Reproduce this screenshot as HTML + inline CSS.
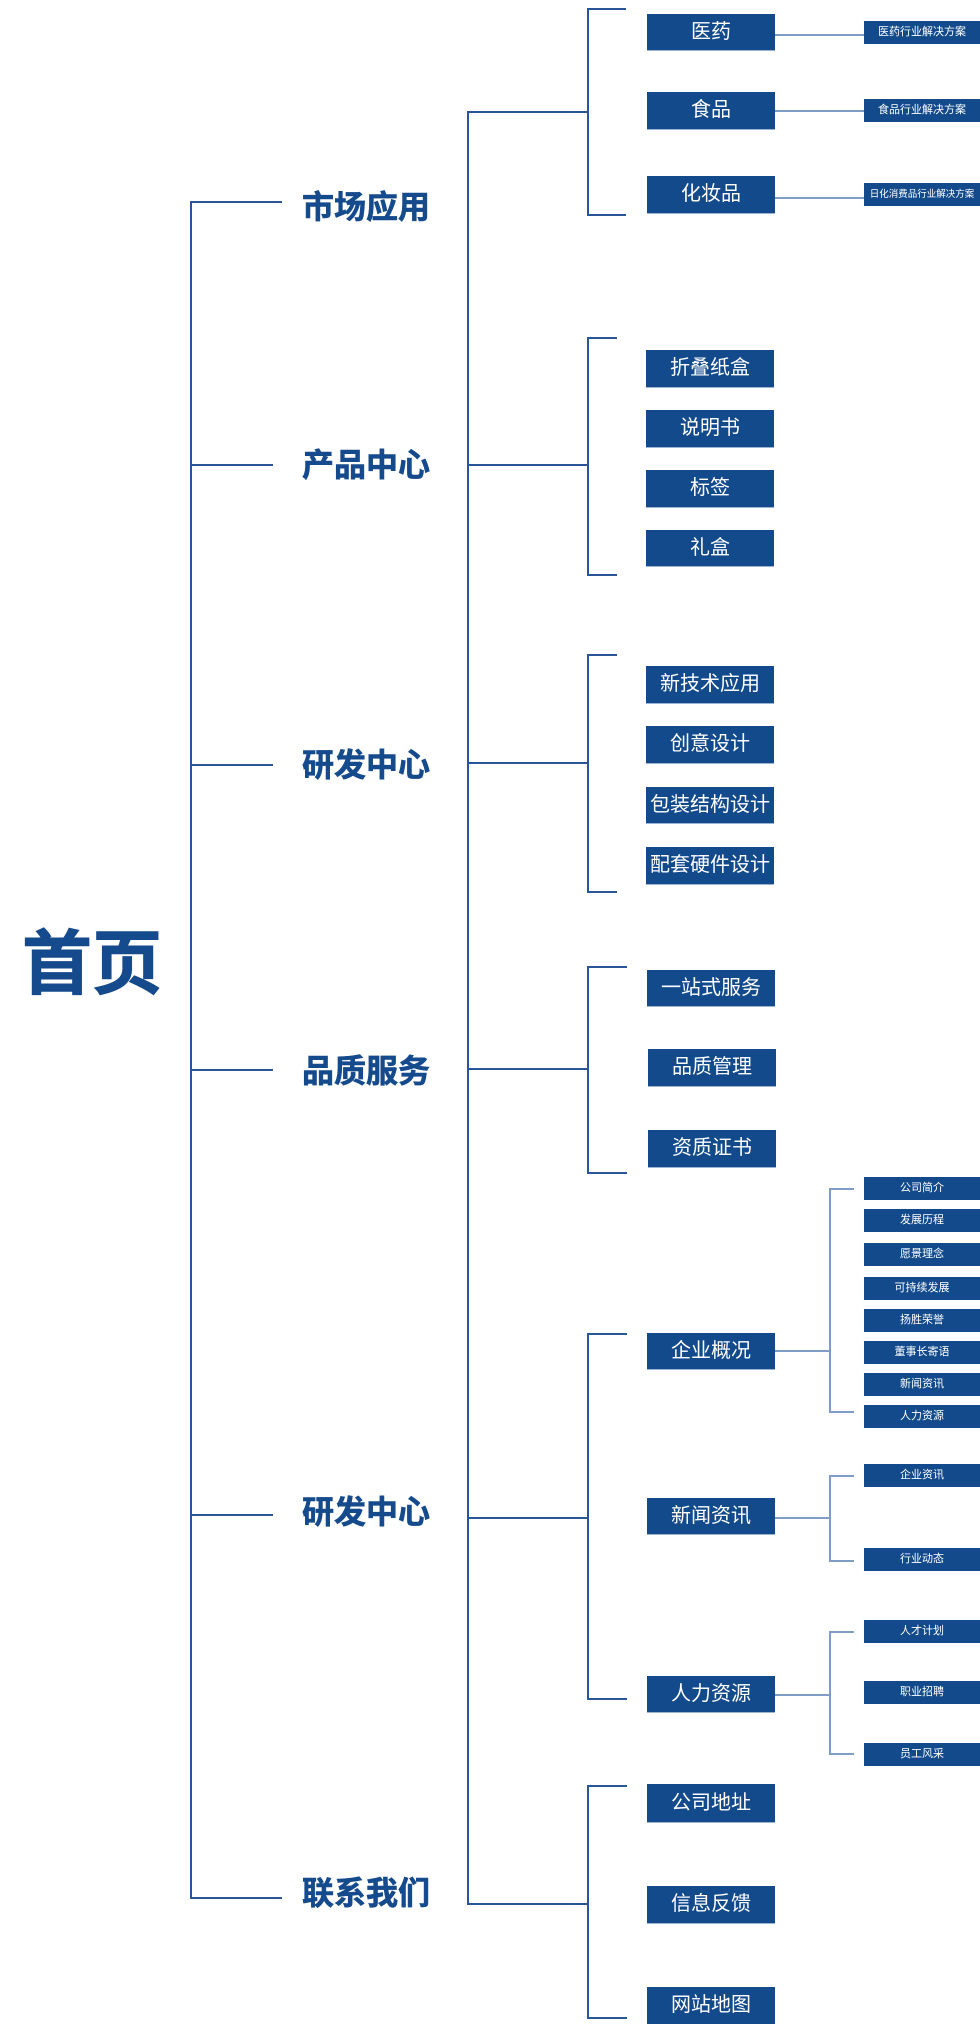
<!DOCTYPE html>
<html><head><meta charset="utf-8"><style>
html,body{margin:0;padding:0;background:#fff;}
body{width:980px;height:2024px;position:relative;overflow:hidden;font-family:"Liberation Sans","Noto Sans CJK SC",sans-serif;}
.l{position:absolute;background:#2a5597;}
.t{position:absolute;background:#7f9cc4;}
.b{position:absolute;background:#124a8c;color:#fff;text-align:center;font-size:20px;box-shadow:0 1px 0 #9db3d4;}
.s{position:absolute;left:864px;width:116px;height:23px;line-height:23px;background:#124a8c;color:#fff;text-align:center;font-size:11px;white-space:nowrap;overflow:hidden;}
.m{position:absolute;left:302px;width:132px;font-size:32px;font-weight:bold;color:#154a8c;line-height:36px;white-space:nowrap;-webkit-text-stroke:0.6px #154a8c;}
</style></head><body>
<div style="position:absolute;left:22px;top:922px;font-size:70px;font-weight:bold;color:#154a8c;line-height:84px;-webkit-text-stroke:1px #154a8c;">首页</div>
<!-- root -->
<div class="l" style="left:190px;top:201px;width:2px;height:1698px"></div>
<div class="l" style="left:190px;top:201px;width:92px;height:2px"></div>
<div class="l" style="left:190px;top:464px;width:83px;height:2px"></div>
<div class="l" style="left:190px;top:764px;width:83px;height:2px"></div>
<div class="l" style="left:190px;top:1069px;width:83px;height:2px"></div>
<div class="l" style="left:190px;top:1514px;width:83px;height:2px"></div>
<div class="l" style="left:190px;top:1897px;width:92px;height:2px"></div>
<div class="m" style="top:189px">市场应用</div>
<div class="m" style="top:447px">产品中心</div>
<div class="m" style="top:747px">研发中心</div>
<div class="m" style="top:1053px">品质服务</div>
<div class="m" style="top:1494px">研发中心</div>
<div class="m" style="top:1875px">联系我们</div>
<!-- second vertical -->
<div class="l" style="left:467px;top:111px;width:2px;height:1794px"></div>
<div class="l" style="left:467px;top:111px;width:121px;height:2px"></div>
<div class="l" style="left:467px;top:464px;width:121px;height:2px"></div>
<div class="l" style="left:467px;top:762px;width:121px;height:2px"></div>
<div class="l" style="left:467px;top:1068px;width:121px;height:2px"></div>
<div class="l" style="left:467px;top:1517px;width:121px;height:2px"></div>
<div class="l" style="left:467px;top:1903px;width:121px;height:2px"></div>
<!-- brackets -->
<div class="l" style="left:587px;top:8px;width:2px;height:208px"></div>
<div class="l" style="left:587px;top:8px;width:39px;height:2px"></div>
<div class="l" style="left:587px;top:214px;width:39px;height:2px"></div>
<div class="l" style="left:587px;top:337px;width:2px;height:239px"></div>
<div class="l" style="left:587px;top:337px;width:30px;height:2px"></div>
<div class="l" style="left:587px;top:574px;width:30px;height:2px"></div>
<div class="l" style="left:587px;top:654px;width:2px;height:239px"></div>
<div class="l" style="left:587px;top:654px;width:30px;height:2px"></div>
<div class="l" style="left:587px;top:891px;width:30px;height:2px"></div>
<div class="l" style="left:587px;top:966px;width:2px;height:208px"></div>
<div class="l" style="left:587px;top:966px;width:40px;height:2px"></div>
<div class="l" style="left:587px;top:1172px;width:40px;height:2px"></div>
<div class="l" style="left:587px;top:1333px;width:2px;height:367px"></div>
<div class="l" style="left:587px;top:1333px;width:40px;height:2px"></div>
<div class="l" style="left:587px;top:1698px;width:40px;height:2px"></div>
<div class="l" style="left:587px;top:1785px;width:2px;height:234px"></div>
<div class="l" style="left:587px;top:1785px;width:40px;height:2px"></div>
<div class="l" style="left:587px;top:2017px;width:40px;height:2px"></div>
<!-- level 2 boxes -->
<div class="b" style="left:647px;top:14px;width:128px;height:36px;line-height:36px">医药</div>
<div class="b" style="left:647px;top:92px;width:128px;height:37px;line-height:37px">食品</div>
<div class="b" style="left:647px;top:176px;width:128px;height:37px;line-height:37px">化妆品</div>
<div class="b" style="left:646px;top:350px;width:128px;height:37px;line-height:37px">折叠纸盒</div>
<div class="b" style="left:646px;top:410px;width:128px;height:37px;line-height:37px">说明书</div>
<div class="b" style="left:646px;top:470px;width:128px;height:37px;line-height:37px">标签</div>
<div class="b" style="left:646px;top:530px;width:128px;height:36px;line-height:36px">礼盒</div>
<div class="b" style="left:646px;top:666px;width:128px;height:37px;line-height:37px">新技术应用</div>
<div class="b" style="left:646px;top:726px;width:128px;height:37px;line-height:37px">创意设计</div>
<div class="b" style="left:646px;top:787px;width:128px;height:36px;line-height:36px">包装结构设计</div>
<div class="b" style="left:646px;top:847px;width:128px;height:37px;line-height:37px">配套硬件设计</div>
<div class="b" style="left:647px;top:970px;width:128px;height:36px;line-height:36px">一站式服务</div>
<div class="b" style="left:648px;top:1049px;width:128px;height:37px;line-height:37px">品质管理</div>
<div class="b" style="left:648px;top:1130px;width:128px;height:37px;line-height:37px">资质证书</div>
<div class="b" style="left:647px;top:1333px;width:128px;height:36px;line-height:36px">企业概况</div>
<div class="b" style="left:647px;top:1498px;width:128px;height:36px;line-height:36px">新闻资讯</div>
<div class="b" style="left:647px;top:1676px;width:128px;height:36px;line-height:36px">人力资源</div>
<div class="b" style="left:647px;top:1784px;width:128px;height:38px;line-height:38px">公司地址</div>
<div class="b" style="left:647px;top:1886px;width:128px;height:37px;line-height:37px">信息反馈</div>
<div class="b" style="left:647px;top:1987px;width:128px;height:37px;line-height:37px">网站地图</div>
<!-- level 3 connectors (market) -->
<div class="t" style="left:775px;top:34px;width:89px;height:2px"></div>
<div class="t" style="left:775px;top:110px;width:89px;height:2px"></div>
<div class="t" style="left:775px;top:197px;width:89px;height:2px"></div>
<div class="s" style="top:21px">医药行业解决方案</div>
<div class="s" style="top:99px">食品行业解决方案</div>
<div class="s" style="top:183px;font-size:9.5px">日化消费品行业解决方案</div>
<!-- 企业概况 -->
<div class="t" style="left:775px;top:1350px;width:54px;height:2px"></div>
<div class="t" style="left:829px;top:1188px;width:2px;height:224px"></div>
<div class="t" style="left:829px;top:1188px;width:25px;height:2px"></div>
<div class="t" style="left:829px;top:1411px;width:25px;height:2px"></div>
<div class="s" style="top:1177px">公司简介</div>
<div class="s" style="top:1209px">发展历程</div>
<div class="s" style="top:1243px">愿景理念</div>
<div class="s" style="top:1277px">可持续发展</div>
<div class="s" style="top:1309px">扬胜荣誉</div>
<div class="s" style="top:1341px">董事长寄语</div>
<div class="s" style="top:1373px">新闻资讯</div>
<div class="s" style="top:1405px">人力资源</div>
<!-- 新闻资讯 -->
<div class="t" style="left:775px;top:1517px;width:54px;height:2px"></div>
<div class="t" style="left:829px;top:1475px;width:2px;height:87px"></div>
<div class="t" style="left:829px;top:1475px;width:25px;height:2px"></div>
<div class="t" style="left:829px;top:1560px;width:25px;height:2px"></div>
<div class="s" style="top:1464px">企业资讯</div>
<div class="s" style="top:1548px">行业动态</div>
<!-- 人力资源 -->
<div class="t" style="left:775px;top:1694px;width:54px;height:2px"></div>
<div class="t" style="left:829px;top:1631px;width:2px;height:124px"></div>
<div class="t" style="left:829px;top:1631px;width:25px;height:2px"></div>
<div class="t" style="left:829px;top:1753px;width:25px;height:2px"></div>
<div class="s" style="top:1620px">人才计划</div>
<div class="s" style="top:1681px">职业招聘</div>
<div class="s" style="top:1743px">员工风采</div>
</body></html>
